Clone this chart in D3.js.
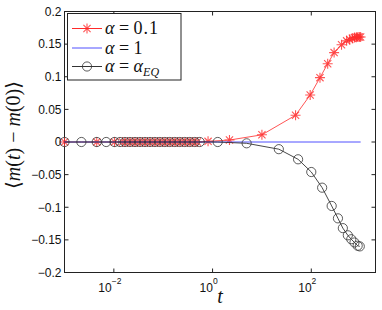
<!DOCTYPE html>
<html>
<head>
<meta charset="utf-8">
<script src="https://cdn.jsdelivr.net/npm/d3@7"></script>
<style>
  body { margin: 0; background: #fff; }
  svg { display: block; }
  .tick-label { font-family: "Liberation Sans", Arial, sans-serif; font-size: 12px; fill: #111; }
  .tex { font-family: "Liberation Serif", "DejaVu Serif", serif; fill: #111; }
</style>
</head>
<body>
<div id="chart"></div>
<script>
// alpha = 0.1 (red asterisks)
const tRed = [0.001, 0.0045, 0.0103, 0.015, 0.019, 0.024, 0.03, 0.038, 0.048, 0.061, 0.077, 0.097,
  0.122, 0.154, 0.194, 0.245, 0.31, 0.39, 0.49, 0.81, 2.2, 10, 48, 95, 150, 215, 290, 410,
  520, 600, 680, 750, 820, 880, 940, 1000];
const mRed = [0, 0, 0, 0, 0, 0, 0, 0, 0, 0, 0, 0,
  0, 0, 0, 0, 0, 0, 0, 0.001, 0.003, 0.011, 0.041, 0.072, 0.0986, 0.12, 0.137, 0.149,
  0.155, 0.157, 0.159, 0.160, 0.1605, 0.161, 0.161, 0.161];

// alpha = 1 (blue, flat)
const tBlue = [0.001, 1000];
const mBlue = [0, 0];

// alpha = alpha_EQ (black circles)
const tEq = [0.001, 0.0022, 0.0045, 0.007, 0.0103, 0.0133, 0.0168, 0.0212, 0.0268, 0.0338, 0.0427,
  0.054, 0.068, 0.0857, 0.108, 0.136, 0.172, 0.217, 0.274, 0.346, 0.437, 0.55, 1.27, 4.9,
  22, 54, 100, 166, 259, 347, 436, 550, 646, 750, 870, 960];
const mEq = [0, 0, 0, 0, 0, 0, 0, 0, 0, 0, 0,
  0, 0, 0, 0, 0, 0, 0, 0, 0, 0, 0, 0, -0.002,
  -0.011, -0.0265, -0.046, -0.070, -0.098, -0.117, -0.132, -0.143, -0.149, -0.154, -0.159, -0.160];

const yTicks = [-0.2, -0.15, -0.1, -0.05, 0, 0.05, 0.1, 0.15, 0.2];
const xTicks = [1e-2, 1e0, 1e2];
const xTickExp = ['\u22122', '0', '2'];

const W = 382, H = 310;
const box = { left: 64.5, right: 375.5, top: 11.5, bottom: 272.5 };

const svg = d3.select('#chart').append('svg')
  .attr('width', W).attr('height', H)
  .attr('viewBox', `0 0 ${W} ${H}`);

const x = d3.scaleLog().domain([1e-3, 2000]).range([box.left, box.right]);
const y = d3.scaleLinear().domain([-0.2, 0.2]).range([box.bottom, box.top]);

// plot box
svg.append('rect')
  .attr('x', box.left).attr('y', box.top)
  .attr('width', box.right - box.left).attr('height', box.bottom - box.top)
  .attr('fill', '#fff').attr('stroke', '#222').attr('stroke-width', 1);

// ticks pointing inward on all four sides
const tickLen = 4;
const axes = svg.append('g').attr('stroke', '#222').attr('stroke-width', 1);
yTicks.forEach(v => {
  axes.append('line').attr('x1', box.left).attr('x2', box.left + tickLen).attr('y1', y(v)).attr('y2', y(v));
  axes.append('line').attr('x1', box.right).attr('x2', box.right - tickLen).attr('y1', y(v)).attr('y2', y(v));
});
xTicks.forEach(v => {
  axes.append('line').attr('x1', x(v)).attr('x2', x(v)).attr('y1', box.bottom).attr('y2', box.bottom - tickLen);
  axes.append('line').attr('x1', x(v)).attr('x2', x(v)).attr('y1', box.top).attr('y2', box.top + tickLen);
});

const fmt = v => (v === 0 ? '0' : d3.format('~g')(v).replace('-', '\u2212'));
yTicks.forEach(v => {
  svg.append('text').attr('class', 'tick-label')
    .attr('x', box.left - 3).attr('y', y(v) + 4.3)
    .attr('text-anchor', 'end')
    .text(fmt(v));
});

xTicks.forEach((v, i) => {
  const t = svg.append('text').attr('class', 'tick-label')
    .attr('x', x(v) - 4).attr('y', box.bottom + 19)
    .attr('text-anchor', 'middle');
  t.append('tspan').text('10');
  t.append('tspan').attr('dy', -7.5).attr('font-size', 8.5).text(xTickExp[i]);
});

// lines
const line = d3.line().x(d => x(d[0])).y(d => y(d[1]));
const redPts = tRed.map((t, i) => [t, mRed[i]]);
const bluePts = tBlue.map((t, i) => [t, mBlue[i]]);
const eqPts = tEq.map((t, i) => [t, mEq[i]]);

const red = '#ff2a2a';
const blue = '#5050ff';
const dark = '#333';

function star(g, cx, cy, r, color) {
  const d = `M${cx - r},${cy}H${cx + r}M${cx},${cy - r}V${cy + r}` +
    `M${cx - r * 0.72},${cy - r * 0.72}L${cx + r * 0.72},${cy + r * 0.72}` +
    `M${cx - r * 0.72},${cy + r * 0.72}L${cx + r * 0.72},${cy - r * 0.72}`;
  g.append('path').attr('d', d).attr('stroke', color).attr('stroke-width', 1.1)
    .attr('fill', 'none').attr('opacity', 0.8);
}

svg.append('path').datum(redPts).attr('d', line)
  .attr('fill', 'none').attr('stroke', red).attr('stroke-width', 1).attr('opacity', 0.8);
const gRed = svg.append('g');
redPts.forEach(p => star(gRed, x(p[0]), y(p[1]), 5, red));

svg.append('path').datum(bluePts).attr('d', line)
  .attr('fill', 'none').attr('stroke', blue).attr('stroke-width', 1);

svg.append('path').datum(eqPts).attr('d', line)
  .attr('fill', 'none').attr('stroke', dark).attr('stroke-width', 0.9);
svg.append('g').selectAll('circle').data(eqPts).join('circle')
  .attr('cx', d => x(d[0])).attr('cy', d => y(d[1])).attr('r', 4.6)
  .attr('fill', 'none').attr('stroke', dark).attr('stroke-width', 0.8);

// legend
const lg = svg.append('g');
lg.append('rect').attr('x', 67.5).attr('y', 13.5).attr('width', 113.5).attr('height', 66.5)
  .attr('fill', '#fff').attr('stroke', '#222').attr('stroke-width', 1);
const rows = [
  { y: 28.5, color: red, marker: 'star', label: ['0.1'] },
  { y: 48, color: blue, marker: null, label: ['1'] },
  { y: 66.5, color: dark, marker: 'circle', label: null },
];
rows.forEach(r => {
  lg.append('line').attr('x1', 72).attr('x2', 102).attr('y1', r.y).attr('y2', r.y)
    .attr('stroke', r.color).attr('stroke-width', 1);
  if (r.marker === 'star') star(lg, 87, r.y, 5, r.color);
  if (r.marker === 'circle') lg.append('circle').attr('cx', 87).attr('cy', r.y).attr('r', 4.6)
    .attr('fill', 'none').attr('stroke', r.color).attr('stroke-width', 0.8);
  const t = lg.append('text').attr('class', 'tex').attr('x', 105).attr('y', r.y + 5.5)
    .attr('font-size', 18);
  t.append('tspan').attr('font-style', 'italic').text('\u03b1');
  t.append('tspan').text(' = ');
  if (r.label) {
    t.append('tspan').attr('letter-spacing', 1).text(r.label[0]);
  } else {
    t.append('tspan').attr('font-style', 'italic').text('\u03b1');
    t.append('tspan').attr('font-style', 'italic').attr('font-size', 12).attr('dy', 4).text('EQ');
  }
});

// axis labels
svg.append('text').attr('class', 'tex')
  .attr('x', 220).attr('y', 303).attr('text-anchor', 'middle')
  .attr('font-size', 20).attr('font-style', 'italic').text('t');

const yl = svg.append('text').attr('class', 'tex')
  .attr('transform', 'translate(20,135) rotate(-90)')
  .attr('text-anchor', 'middle').attr('font-size', 20);
yl.append('tspan').text('\u27e8');
yl.append('tspan').attr('font-style', 'italic').text('m');
yl.append('tspan').text('(');
yl.append('tspan').attr('font-style', 'italic').text('t');
yl.append('tspan').text(') \u2212 ');
yl.append('tspan').attr('font-style', 'italic').text('m');
yl.append('tspan').text('(0)\u27e9');
</script>
</body>
</html>
